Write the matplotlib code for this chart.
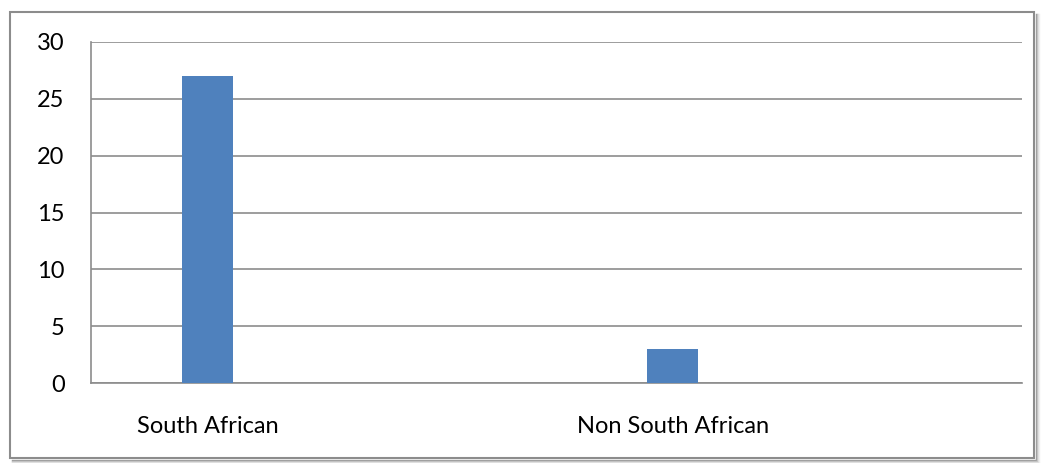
import matplotlib.pyplot as plt
from matplotlib.patches import Rectangle
from matplotlib.lines import Line2D

categories = ['South African', '', 'Non South African', '']
values = [27, None, 3, None]
yticks = [0, 5, 10, 15, 20, 25, 30]

plt.rcParams['font.family'] = ['Lato', 'DejaVu Sans']

fig = plt.figure(figsize=(10.47, 4.63), dpi=100)
W, H = 1047, 463

# outer chart frame with soft shadow on right and bottom
fig.patches.append(Rectangle((10 / W, (H - 458) / H), 1024 / W, 446 / H,
                             transform=fig.transFigure, facecolor='white',
                             edgecolor='#8c8c8c', linewidth=1.5, zorder=-10))
for i, c in enumerate(['#9a9a9a', '#bdbdbd', '#dcdcdc', '#eeeeee']):
    x = (1036 + i) / W
    y = (H - 460 - i) / H
    fig.lines.append(Line2D([x, x], [(H - 14) / H, y], transform=fig.transFigure,
                            color=c, linewidth=1, zorder=-9))
    fig.lines.append(Line2D([12 / W, x], [y, y], transform=fig.transFigure,
                            color=c, linewidth=1, zorder=-9))

ax = fig.add_axes([91 / W, (H - 383) / H, (1022 - 91) / W, (383 - 42) / H])
ax.set_facecolor('none')

xs = [i for i, v in enumerate(values) if v is not None]
vals = [v for v in values if v is not None]
ax.bar(xs, vals, width=0.22, color='#4f81bd', zorder=3)

ax.set_xlim(-0.5, len(categories) - 0.5)
ax.set_ylim(0, 30)
ax.set_yticks(yticks)
ax.set_xticks(range(len(categories)))
ax.set_xticklabels(categories)
ax.yaxis.grid(True, color='#8c8c8c', linewidth=1.2, zorder=0)
ax.set_axisbelow(True)
ax.tick_params(axis='both', length=0, labelsize=17)
ax.tick_params(axis='y', pad=19)
ax.tick_params(axis='x', pad=24)
for s in ['top', 'right']:
    ax.spines[s].set_visible(False)
for s in ['left', 'bottom']:
    ax.spines[s].set_color('#8c8c8c')
    ax.spines[s].set_linewidth(1.2)

fig.savefig('out.png', dpi=100)
